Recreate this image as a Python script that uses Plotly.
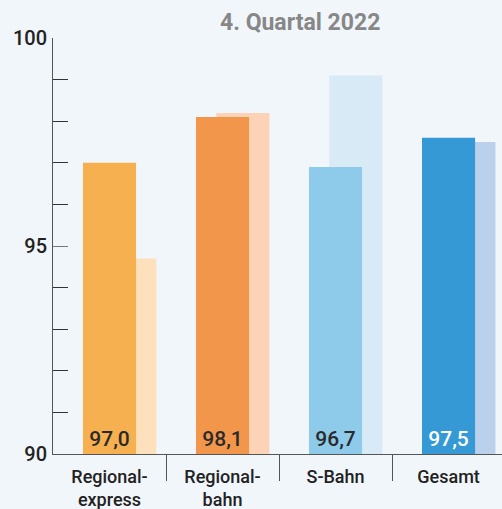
import plotly.graph_objects as go

categories = ["Regional-<br>express", "Regional-<br>bahn", "S-Bahn", "Gesamt"]
current_values = [97.0, 98.1, 96.9, 97.6]
current_labels = ["97,0", "98,1", "96,7", "97,5"]
previous_values = [94.7, 98.2, 99.1, 97.5]
y_tick_values = [90, 95, 100]
y_tick_labels = ["90", "95", "100"]
title_text = "4. Quartal 2022"

main_colors = ["#F7B04F", "#F2964B", "#8ECBEB", "#3599D5"]
prev_colors = ["#FDE1BD", "#FCD3B6", "#D7EAF6", "#BBD1EB"]
label_colors = ["#2A2A2A", "#2A2A2A", "#2A2A2A", "#FFFFFF"]

FONT = "Roboto, 'DejaVu Sans', sans-serif"
x_pos = list(range(len(categories)))
BAR_W = 0.47
OFFSET = 0.18

fig = go.Figure()
fig.add_trace(go.Bar(
    x=[p + OFFSET for p in x_pos], y=[v - 90 for v in previous_values], base=90,
    width=BAR_W, marker=dict(color=prev_colors, line=dict(width=0)),
    hoverinfo="skip", showlegend=False,
))
fig.add_trace(go.Bar(
    x=x_pos, y=[v - 90 for v in current_values], base=90,
    width=BAR_W, marker=dict(color=main_colors, line=dict(width=0)),
    text=current_labels, textposition="inside", insidetextanchor="start",
    textangle=0, textfont=dict(family=FONT, size=21, color=label_colors, weight=500),
    constraintext="none", cliponaxis=False,
    hoverinfo="skip", showlegend=False,
))

fig.update_layout(
    width=502, height=509,
    margin=dict(l=53, r=0, t=38, b=55, autoexpand=False),
    paper_bgcolor="#F1F6FB", plot_bgcolor="#F1F6FB",
    barmode="overlay",
    title=dict(text="<b>" + title_text + "</b>", x=0.598, xanchor="center",
               xref="container", y=0.957, yanchor="middle", automargin=False,
               font=dict(family=FONT, size=23, color="#878787")),
    font=dict(family=FONT, color="#222222"),
    xaxis=dict(
        range=[-0.5, 3.473], showgrid=False, zeroline=False, automargin=False,
        showline=True, linecolor="#555555", linewidth=1,
        tickmode="array", tickvals=x_pos, ticktext=categories,
        ticks="", tickfont=dict(family=FONT, size=18, color="#222222", weight=500),
        ticklabelstandoff=6,
        minor=dict(tickmode="array", tickvals=[0.5, 1.5, 2.5], ticks="outside",
                   ticklen=26, tickcolor="#555555", tickwidth=1, showgrid=False),
    ),
    yaxis=dict(
        range=[90, 100], showgrid=False, zeroline=False, automargin=False,
        showline=True, linecolor="#555555", linewidth=1,
        tickmode="array", tickvals=y_tick_values, ticktext=y_tick_labels,
        ticks="inside", ticklen=15, tickcolor="#777777", tickwidth=1,
        tickfont=dict(family=FONT, size=20, color="#222222", weight=500),
        ticklabelstandoff=1,
        minor=dict(dtick=1, tick0=90, ticks="inside", ticklen=15,
                   tickcolor="#333333", tickwidth=1, showgrid=False),
    ),
)

fig.write_html(
    "out.html",
    config={"displayModeBar": False, "staticPlot": True},
    post_script="document.body.style.margin='0';document.body.style.overflow='hidden';"
                "document.body.style.background='#F1F6FB';",
)
